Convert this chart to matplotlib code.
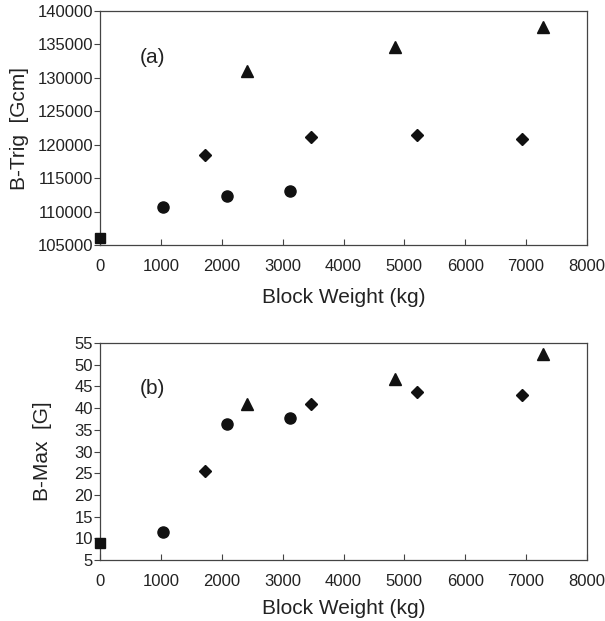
import matplotlib
matplotlib.use("Agg")
import matplotlib.pyplot as plt

plt.rcParams['font.family'] = ['Liberation Sans', 'DejaVu Sans']

# block weight (kg) per group
w_square = [0]
w_circle = [1040, 2080, 3120]
w_diamond = [1730, 3460, 5200, 6930]
w_triangle = [2420, 4850, 7270]

# (a) B-Trig [Gcm]
trig_square = [106000]
trig_circle = [110700, 112400, 113100]
trig_diamond = [118400, 121200, 121500, 120800]
trig_triangle = [131000, 134600, 137600]

# (b) B-Max [G]
max_square = [9]
max_circle = [11.5, 36.3, 37.8]
max_diamond = [25.4, 41, 43.7, 43]
max_triangle = [41, 46.8, 52.5]

xticks = [0, 1000, 2000, 3000, 4000, 5000, 6000, 7000, 8000]


def draw_panel(ax, ys, ylim, yticks, ylabel, tag, tag_y, xpad, ypad):
    groups = [(w_square, ys[0], 's', 7), (w_circle, ys[1], 'o', 8),
              (w_diamond, ys[2], 'D', 6.5), (w_triangle, ys[3], '^', 8)]
    for xs, vals, m, size in groups:
        ax.plot(xs, vals, linestyle='none', marker=m, markersize=size,
                color='#111111', clip_on=False, zorder=3)
    ax.set_xlim(0, 8000)
    ax.set_ylim(*ylim)
    ax.set_xticks(xticks)
    ax.set_yticks(yticks)
    ax.tick_params(labelsize=12, color='#444444', labelcolor='#222222', width=0.8)
    ax.tick_params(axis='x', direction='in', length=4, pad=10)
    ax.tick_params(axis='y', direction='out', length=4, pad=1)
    ax.set_xlabel('Block Weight (kg)', fontsize=15, color='#222222', labelpad=xpad)
    ax.set_ylabel(ylabel, fontsize=15, color='#222222', labelpad=ypad)
    ax.text(0.082, tag_y, tag, transform=ax.transAxes, fontsize=15,
            va='center', color='#222222')
    for s in ax.spines.values():
        s.set_linewidth(0.9)
        s.set_color('#444444')


fig = plt.figure(figsize=(6.05, 6.21), dpi=100)
ax1 = fig.add_axes([100 / 605, 1 - 245 / 621, 487 / 605, 234 / 621])
ax2 = fig.add_axes([100 / 605, 1 - 560 / 621, 487 / 605, 217 / 621])

draw_panel(ax1, [trig_square, trig_circle, trig_diamond, trig_triangle],
           (105000, 140000), list(range(105000, 140001, 5000)),
           'B-Trig  [Gcm]', '(a)', 0.80, 10, 6)
draw_panel(ax2, [max_square, max_circle, max_diamond, max_triangle],
           (5, 55), list(range(5, 56, 5)),
           'B-Max  [G]', '(b)', 0.79, 7, 16)

fig.savefig('out.png', dpi=100)
